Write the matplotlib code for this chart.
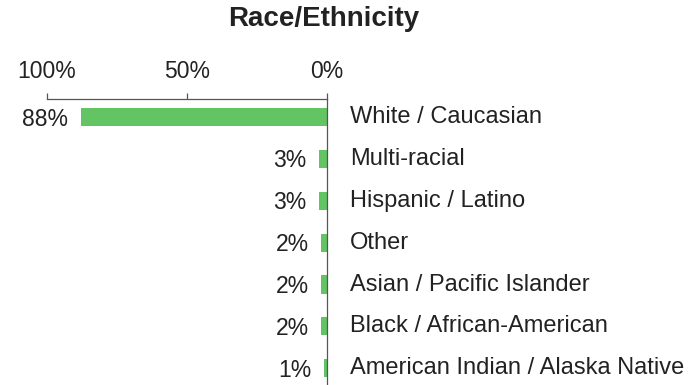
import matplotlib
matplotlib.use("Agg")
from matplotlib import pyplot as plt

plt.rcParams['font.family'] = ['Liberation Sans', 'DejaVu Sans']

# race / ethnicity breakdown, percent of respondents
categories = ["White / Caucasian", "Multi-racial", "Hispanic / Latino", "Other",
              "Asian / Pacific Islander", "Black / African-American",
              "American Indian / Alaska Native"]
values = [88, 3, 3, 2, 2, 2, 1]
ticks = [100, 50, 0]
tick_labels = ["100%", "50%", "0%"]

W, H = 696, 385
fig = plt.figure(figsize=(W / 100, H / 100), dpi=100)
fig.patch.set_facecolor("white")

# axes spans the 100%..0% scale horizontally, from the top axis line down
ax = fig.add_axes([47 / W, 0, (327 - 47) / W, 1 - 99 / H])
ax.set_facecolor("none")

ypos = list(range(len(categories)))
ax.barh(ypos, values, height=0.43, color="#62c462", edgecolor="none")

ax.set_xlim(100, 0)
ax.set_ylim(6.40, -0.43)

for sp in ["left", "bottom"]:
    ax.spines[sp].set_visible(False)
for sp in ["top", "right"]:
    ax.spines[sp].set_color("#555555")
    ax.spines[sp].set_linewidth(0.9)

ax.xaxis.tick_top()
ax.set_xticks(ticks)
ax.set_xticklabels(tick_labels, fontsize=16.5, color="#222222")
ax.tick_params(axis="x", direction="out", length=4.5, width=0.9,
               color="#555555", pad=7)
ax.set_yticks([])

txt = dict(fontsize=16.5, color="#222222", va="center")
for i, (cat, v) in enumerate(zip(categories, values)):
    ax.annotate(f"{v}%", xy=(v, i), xytext=(-9, -1.5), textcoords="offset points",
                ha="right", annotation_clip=False, **txt)
    ax.annotate(cat, xy=(0, i), xytext=(16.5, 0), textcoords="offset points",
                ha="left", annotation_clip=False,
                **{**txt, "fontsize": 17})

fig.text(323.5 / W, 1 - 19 / H, "Race/Ethnicity", ha="center", va="center",
         fontsize=20, fontweight="bold", color="#222222")

fig.savefig("out.png", dpi=100)
